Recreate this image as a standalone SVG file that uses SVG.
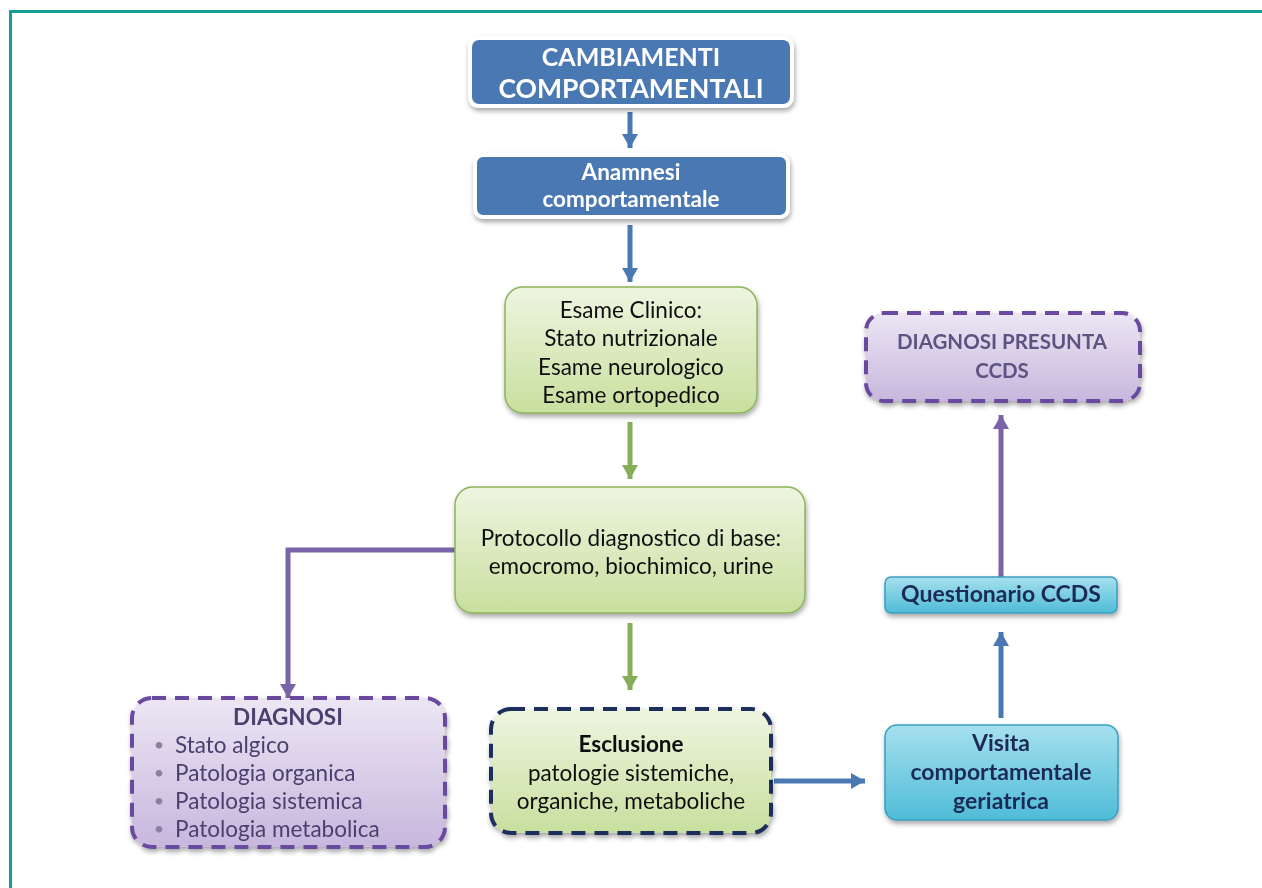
<svg xmlns="http://www.w3.org/2000/svg" width="1262" height="888" viewBox="0 0 1262 888">
<defs>
<style>
text{font-family:Lato,"Open Sans","Liberation Sans",sans-serif;text-anchor:middle}
.w{fill:#fff;font-weight:bold}
.k{fill:#111;font-size:22.5px}
.nv{fill:#1b2a55;font-weight:bold;font-size:23px}
.pp{fill:#4a3f6e;font-size:22.5px}
.bl{fill:#8a80a0;font-size:18px}
.blue{fill:#4a78b3;stroke:#fff;stroke-width:4}
.green{fill:url(#gG);stroke:#8db35a;stroke-width:1.5}
.cyan{fill:url(#gC);stroke:#3a9fbd;stroke-width:1.5}
.purp{fill:url(#gP);stroke:#6a48a0;stroke-width:4;stroke-dasharray:14 9}
.excl{fill:url(#gG);stroke:#1f2d5c;stroke-width:4;stroke-dasharray:14 9}
.cb{stroke:#4a78b3;stroke-width:5;fill:none}
.cg{stroke:#86ae58;stroke-width:5;fill:none}
.cp{stroke:#7a64a8;stroke-width:5;fill:none}
</style>
<linearGradient id="gG" x1="0" y1="0" x2="0" y2="1"><stop offset="0" stop-color="#eef5e0"/><stop offset="1" stop-color="#c8df9e"/></linearGradient>
<linearGradient id="gC" x1="0" y1="0" x2="0" y2="1"><stop offset="0" stop-color="#a6e0ee"/><stop offset="1" stop-color="#4fbcd8"/></linearGradient>
<linearGradient id="gP" x1="0" y1="0" x2="0" y2="1"><stop offset="0" stop-color="#ece6f4"/><stop offset="1" stop-color="#c7b7dd"/></linearGradient>
<filter id="sh" x="-10%" y="-20%" width="120%" height="150%"><feDropShadow dx="1" dy="3" stdDeviation="2.5" flood-color="#000" flood-opacity="0.35"/></filter>
<marker id="mb" markerUnits="userSpaceOnUse" markerWidth="18" markerHeight="16" refX="14" refY="8" orient="auto"><path d="M0,0 L14,8 L0,16 Z" fill="#4a78b3"/></marker>
<marker id="mg" markerUnits="userSpaceOnUse" markerWidth="18" markerHeight="16" refX="14" refY="8" orient="auto"><path d="M0,0 L14,8 L0,16 Z" fill="#86ae58"/></marker>
<marker id="mp" markerUnits="userSpaceOnUse" markerWidth="18" markerHeight="16" refX="14" refY="8" orient="auto"><path d="M0,0 L14,8 L0,16 Z" fill="#7a64a8"/></marker>
</defs>
<rect width="1262" height="888" fill="#fff"/>
<path d="M10.5,888 V11.5 H1262" fill="none" stroke="#169f99" stroke-width="3"/>

<g id="connectors">
<path class="cb" d="M630,112 V148" marker-end="url(#mb)"/>
<path class="cb" d="M630,225 V282" marker-end="url(#mb)"/>
<path class="cg" d="M630,422 V479" marker-end="url(#mg)"/>
<path class="cg" d="M630,623 V690" marker-end="url(#mg)"/>
<path class="cp" d="M455,550 H288 V698" marker-end="url(#mp)"/>
<path class="cb" d="M774,781 H865" marker-end="url(#mb)"/>
<path class="cb" d="M1001,718 V632" marker-end="url(#mb)"/>
<path class="cp" d="M1001,577 V415" marker-end="url(#mp)"/>
</g>

<g id="n1" filter="url(#sh)">
<rect class="blue" x="470" y="38" width="322" height="68" rx="9"/>
<text class="w" x="631" y="66" font-size="25">CAMBIAMENTI</text>
<text class="w" x="631" y="98" font-size="26.5">COMPORTAMENTALI</text>
</g>

<g id="n2" filter="url(#sh)">
<rect class="blue" x="475" y="155" width="313" height="62" rx="8"/>
<text class="w" x="631" y="180" font-size="22.5">Anamnesi</text>
<text class="w" x="631" y="207" font-size="22.5">comportamentale</text>
</g>

<g id="n3" filter="url(#sh)">
<rect class="green" x="505" y="287" width="252" height="126" rx="18"/>
<text class="k" x="631" y="318">Esame Clinico:</text>
<text class="k" x="631" y="346">Stato nutrizionale</text>
<text class="k" x="631" y="375">Esame neurologico</text>
<text class="k" x="631" y="403">Esame ortopedico</text>
</g>

<g id="n4" filter="url(#sh)">
<rect class="green" x="455" y="487" width="350" height="126" rx="18"/>
<text class="k" x="631" y="546">Protocollo diagnostico di base:</text>
<text class="k" x="631" y="574">emocromo, biochimico, urine</text>
</g>

<g id="n5" filter="url(#sh)">
<rect class="purp" x="132" y="698" width="313" height="149" rx="20"/>
<text class="pp" x="288" y="725" font-weight="bold">DIAGNOSI</text>
<text class="bl" x="159" y="751">•</text><text class="pp" x="175" y="753" style="text-anchor:start">Stato algico</text>
<text class="bl" x="159" y="779">•</text><text class="pp" x="175" y="781" style="text-anchor:start">Patologia organica</text>
<text class="bl" x="159" y="807">•</text><text class="pp" x="175" y="809" style="text-anchor:start">Patologia sistemica</text>
<text class="bl" x="159" y="835">•</text><text class="pp" x="175" y="837" style="text-anchor:start">Patologia metabolica</text>
</g>

<g id="n6" filter="url(#sh)">
<rect class="excl" x="491" y="709" width="280" height="124" rx="20"/>
<text class="k" x="631" y="752" font-weight="bold">Esclusione</text>
<text class="k" x="631" y="781">patologie sistemiche,</text>
<text class="k" x="631" y="809">organiche, metaboliche</text>
</g>

<g id="n7" filter="url(#sh)">
<rect class="cyan" x="885" y="725" width="233" height="95" rx="12"/>
<text class="nv" x="1001" y="751">Visita</text>
<text class="nv" x="1001" y="780">comportamentale</text>
<text class="nv" x="1001" y="809">geriatrica</text>
</g>

<g id="n8" filter="url(#sh)">
<rect class="cyan" x="885" y="577" width="232" height="36" rx="6"/>
<text class="nv" x="1001" y="602" font-size="20.5">Questionario CCDS</text>
</g>

<g id="n9" filter="url(#sh)">
<rect class="purp" x="866" y="313" width="274" height="88" rx="18"/>
<text x="1002" y="349" font-size="20.5" font-weight="bold" fill="#5d5380">DIAGNOSI PRESUNTA</text>
<text x="1002" y="378" font-size="20.5" font-weight="bold" fill="#5d5380">CCDS</text>
</g>
</svg>
